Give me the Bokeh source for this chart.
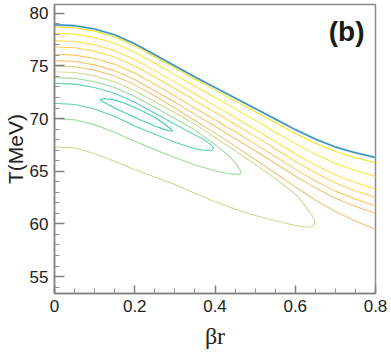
from bokeh.plotting import figure
from bokeh.models import Label, FixedTicker, Range1d
from bokeh.embed import file_html
from bokeh.resources import INLINE

# ---------------- data ----------------
beta = [0.0, 0.05, 0.1, 0.15, 0.2, 0.25, 0.3, 0.35, 0.4, 0.45, 0.5,
        0.55, 0.6, 0.65, 0.7, 0.75, 0.8]

# upper boundary of the contour region
T_edge = [78.9, 78.82, 78.5, 77.95, 77.1, 76.05, 75.0, 73.95, 72.95, 71.95,
          70.95, 69.95, 68.95, 68.05, 67.3, 66.75, 66.3]
# open contours running from the left edge to the right edge
T_c1 = [78.7, 78.62, 78.3, 77.75, 76.9, 75.85, 74.79, 73.73, 72.7, 71.68,
        70.65, 69.62, 68.59, 67.65, 66.87, 66.28, 65.8]
T_c2 = [78.1, 78.02, 77.7, 77.15, 76.3, 75.25, 74.17, 73.07, 72.0, 70.92,
        69.83, 68.73, 67.62, 66.6, 65.73, 65.06, 64.5]
T_c3 = [77.4, 77.32, 77.0, 76.45, 75.6, 74.55, 73.46, 72.33, 71.23, 70.11,
        68.97, 67.82, 66.66, 65.58, 64.65, 63.92, 63.3]
T_c4 = [76.8, 76.72, 76.4, 75.85, 75.0, 73.95, 72.85, 71.71, 70.6, 69.46,
        68.31, 67.14, 65.95, 64.85, 63.89, 63.14, 62.5]
T_c5 = [76.1, 76.02, 75.7, 75.15, 74.3, 73.25, 72.15, 71.01, 69.88, 68.74,
        67.57, 66.39, 65.2, 64.08, 63.11, 62.35, 61.7]
T_c6 = [75.5, 75.42, 75.1, 74.55, 73.7, 72.65, 71.54, 70.4, 69.27, 68.11,
        66.94, 65.75, 64.54, 63.42, 62.44, 61.66, 61.0]
T_c7 = [75.0, 74.92, 74.6, 74.05, 73.2, 72.15, 71.01, 69.82, 68.62, 67.38,
        66.12, 64.83, 63.51, 62.27, 61.17, 60.27, 59.5]

# U-shaped contours (upper branch from left, round the tip, lower branch back)
yg_beta = [0.0, 0.05, 0.1, 0.15, 0.2, 0.25, 0.3, 0.35, 0.4, 0.45, 0.5, 0.55,
           0.6, 0.62, 0.632, 0.643, 0.648, 0.648, 0.642, 0.63, 0.6, 0.55, 0.5,
           0.45, 0.4, 0.35, 0.3, 0.25, 0.2, 0.15, 0.1, 0.05, 0.0]
yg_T = [74.45, 74.37, 74.05, 73.5, 72.65, 71.6, 70.55, 69.45, 68.2, 66.95,
        65.65, 64.3, 62.85, 61.95, 61.3, 60.75, 60.35, 60.0, 59.75, 59.68,
        59.85, 60.3, 60.8, 61.4, 62.1, 62.9, 63.75, 64.45, 65.15, 65.95,
        66.65, 67.22, 67.3]

gr_beta = [0.0, 0.05, 0.1, 0.15, 0.2, 0.25, 0.3, 0.35, 0.4, 0.43, 0.45, 0.46,
           0.465, 0.462, 0.45, 0.43, 0.4, 0.35, 0.3, 0.25, 0.2, 0.15, 0.1,
           0.05, 0.0]
gr_T = [73.9, 73.82, 73.5, 72.95, 72.1, 71.05, 70.0, 68.9, 67.55, 66.6, 65.85,
        65.3, 64.95, 64.75, 64.7, 64.8, 65.05, 65.6, 66.3, 67.05, 67.85, 68.7,
        69.4, 69.88, 70.0]

tl_beta = [0.0, 0.05, 0.1, 0.15, 0.2, 0.25, 0.3, 0.35, 0.375, 0.39, 0.397,
           0.392, 0.38, 0.36, 0.34, 0.3, 0.25, 0.2, 0.15, 0.1, 0.05, 0.0]
tl_T = [73.35, 73.27, 72.95, 72.4, 71.55, 70.5, 69.45, 68.45, 67.95, 67.5,
        67.2, 67.0, 66.97, 67.05, 67.25, 67.75, 68.5, 69.3, 70.2, 70.9,
        71.33, 71.45]

# innermost closed contour
el_beta = [0.113, 0.125, 0.15, 0.175, 0.2, 0.225, 0.25, 0.27, 0.285, 0.295,
           0.29, 0.275, 0.25, 0.225, 0.2, 0.175, 0.15, 0.13, 0.118, 0.113]
el_T = [71.75, 71.9, 71.75, 71.45, 71.05, 70.6, 70.1, 69.6, 69.15, 68.85,
        68.8, 68.95, 69.3, 69.7, 70.1, 70.55, 71.0, 71.4, 71.65, 71.75]

x_ticks = [0.0, 0.2, 0.4, 0.6, 0.8]
x_minor = [0.05, 0.1, 0.15, 0.25, 0.3, 0.35, 0.45, 0.5, 0.55, 0.65, 0.7, 0.75]
y_ticks = [55, 60, 65, 70, 75, 80]
y_minor = [54, 56, 57, 58, 59, 61, 62, 63, 64, 66, 67, 68, 69, 71, 72, 73, 74,
           76, 77, 78, 79]

# ---------------- figure ----------------
p = figure(width=391, height=352, output_backend="svg", toolbar_location=None,
           x_range=Range1d(0.0, 0.8), y_range=Range1d(53.39, 80.83),
           min_border_left=52, min_border_right=16, min_border_top=4,
           min_border_bottom=59)
p.grid.visible = False
p.outline_line_color = "#8a8a8a"
p.outline_line_width = 1.5
p.background_fill_color = "white"
p.border_fill_color = "white"

for ax in (p.xaxis[0], p.yaxis[0]):
    ax.axis_line_color = "#808080"
    ax.axis_line_width = 1.5
    ax.major_tick_line_color = "#808080"
    ax.minor_tick_line_color = "#909090"
    ax.major_tick_line_width = 1.5
    ax.minor_tick_line_width = 1
    ax.major_tick_out = 0
    ax.minor_tick_out = 0
    ax.minor_tick_in = 5
    ax.major_label_text_font = "Liberation Sans"
    ax.major_label_text_font_size = "17px"
    ax.major_label_text_color = "#222222"
    ax.axis_label_text_font_style = "normal"
    ax.axis_label_text_color = "#222222"
    ax.major_label_standoff = 6

p.xaxis[0].ticker = FixedTicker(ticks=x_ticks, minor_ticks=x_minor)
p.yaxis[0].ticker = FixedTicker(ticks=y_ticks, minor_ticks=y_minor)
p.xaxis[0].major_tick_in = 8
p.yaxis[0].major_tick_in = 10
p.xaxis[0].major_label_overrides = {0: "0", 0.2: "0.2", 0.4: "0.4", 0.6: "0.6", 0.8: "0.8"}

p.yaxis[0].axis_label = "T(MeV)"
p.yaxis[0].axis_label_text_font = "Liberation Sans"
p.yaxis[0].axis_label_text_font_size = "21px"
p.yaxis[0].axis_label_standoff = 0

p.xaxis[0].axis_label = "βr"
p.xaxis[0].axis_label_text_font = "Liberation Serif"
p.xaxis[0].axis_label_text_font_size = "24px"
p.xaxis[0].axis_label_standoff = 8

lw = 1.1
p.line(beta, T_c7, line_color="#ecc47e", line_width=lw)
p.line(beta, T_c6, line_color="#f5c172", line_width=lw)
p.line(beta, T_c5, line_color="#f9c866", line_width=lw)
p.line(beta, T_c4, line_color="#fbd458", line_width=lw)
p.line(beta, T_c3, line_color="#fbe04a", line_width=lw)
p.line(beta, T_c2, line_color="#f8e73a", line_width=lw)
p.line(yg_beta, yg_T, line_color="#cfdc92", line_width=lw)
p.line(gr_beta, gr_T, line_color="#9edb9e", line_width=lw)
p.line(tl_beta, tl_T, line_color="#5cd3b0", line_width=lw)
p.line(el_beta, el_T, line_color="#45cfae", line_width=lw)
p.line(beta, T_edge, line_color="#a6d2e6", line_width=2.4)
p.line(beta, T_edge, line_color="#2f86b4", line_width=1.1)
p.line(beta, T_c1, line_color="#f0e31c", line_width=lw)

# panel tag
p.add_layout(Label(x=0.728, y=78.26, text="(b)", text_font="Liberation Sans",
                   text_font_style="bold", text_font_size="28px",
                   text_color="#1a1a1a", text_align="center",
                   text_baseline="middle"))

open("out.html", "w").write(file_html(p, INLINE))
